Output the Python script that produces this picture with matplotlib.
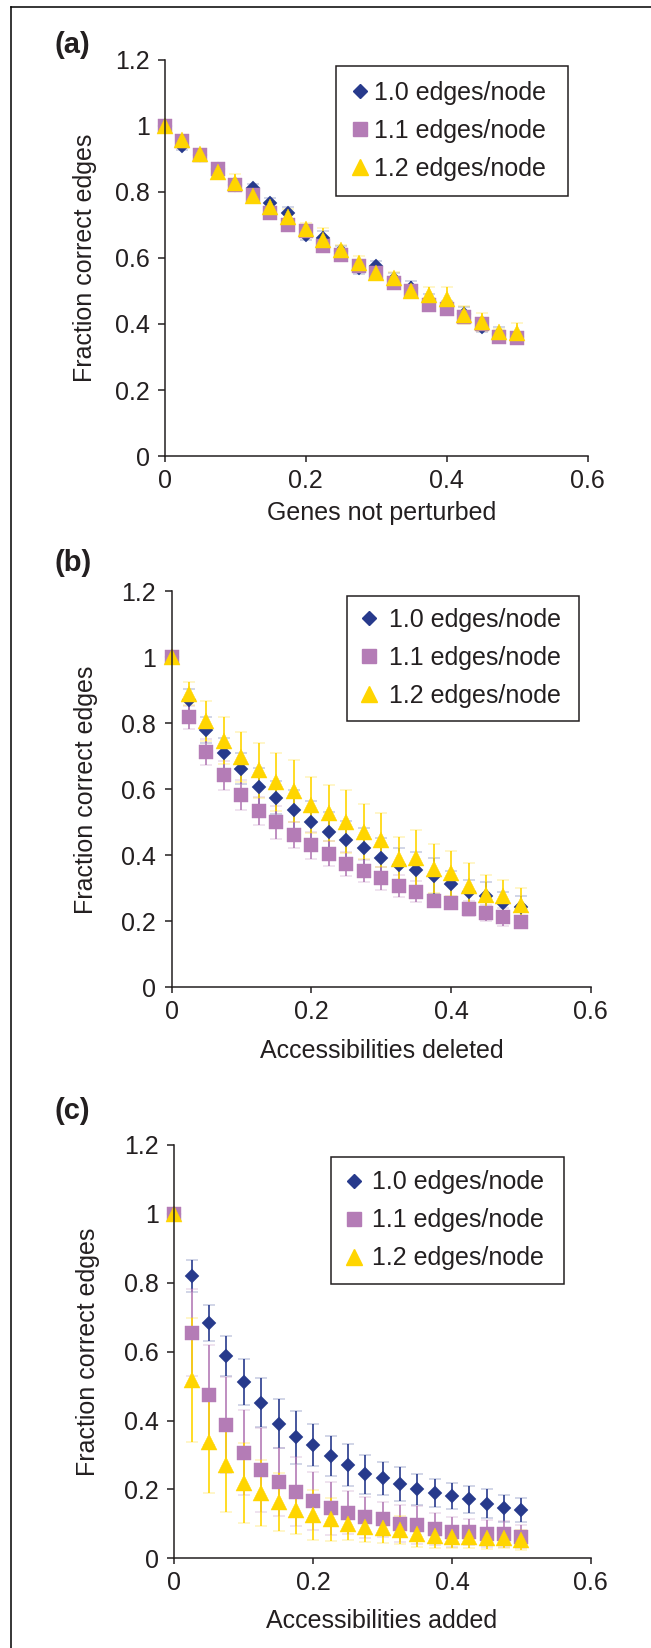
import matplotlib
matplotlib.use("Agg")
import matplotlib.pyplot as plt
from matplotlib.lines import Line2D

plt.rcParams["font.family"] = ["Liberation Sans", "DejaVu Sans"]

W, H = 651, 1648

# fraction of edges removed/added (x), shared by all panels
x = [0.0, 0.025, 0.05, 0.075, 0.1, 0.125, 0.15, 0.175, 0.2, 0.225, 0.25,
     0.275, 0.3, 0.325, 0.35, 0.375, 0.4, 0.425, 0.45, 0.475, 0.5]

labels = ["1.0 edges/node", "1.1 edges/node", "1.2 edges/node"]

# (a) genes not perturbed
a_d = [1.0, 0.94, 0.91, 0.87, 0.82, 0.81, 0.765, 0.735, 0.67, 0.66, 0.62,
       0.57, 0.575, 0.535, 0.51, 0.47, 0.45, 0.43, 0.39, 0.37, 0.36]
a_de = [0, 0.015, 0.015, 0.015, 0.015, 0.015, 0.015, 0.02, 0.015, 0.02, 0.015,
        0.02, 0.015, 0.02, 0.02, 0.02, 0.02, 0.02, 0.015, 0.02, 0.015]
a_s = [1.0, 0.955, 0.91, 0.87, 0.82, 0.79, 0.735, 0.70, 0.68, 0.635, 0.61,
       0.575, 0.555, 0.525, 0.50, 0.457, 0.445, 0.42, 0.40, 0.361, 0.357]
a_se = [0, 0.015, 0.015, 0.015, 0.015, 0.015, 0.015, 0.015, 0.015, 0.015, 0.015,
        0.015, 0.015, 0.015, 0.015, 0.015, 0.015, 0.015, 0.015, 0.015, 0.015]
a_t = [1.0, 0.956, 0.913, 0.86, 0.827, 0.787, 0.755, 0.724, 0.686, 0.654, 0.624,
       0.585, 0.553, 0.538, 0.50, 0.488, 0.474, 0.427, 0.407, 0.375, 0.372]
a_te = [0, 0.01, 0.015, 0.015, 0.026, 0.02, 0.015, 0.025, 0.02, 0.035, 0.015,
        0.02, 0.01, 0.02, 0.01, 0.023, 0.037, 0.027, 0.027, 0.01, 0.03]

# (b) accessibilities deleted
b_d = [1.0, 0.87, 0.78, 0.71, 0.663, 0.607, 0.575, 0.538, 0.502, 0.472, 0.445,
       0.423, 0.392, 0.37, 0.357, 0.338, 0.312, 0.288, 0.278, 0.255, 0.242]
b_de = [0, 0.033, 0.04, 0.047, 0.046, 0.057, 0.05, 0.06, 0.062, 0.06, 0.06,
        0.06, 0.06, 0.053, 0.052, 0.054, 0.04, 0.038, 0.04, 0.034, 0.036]
b_s = [1.0, 0.818, 0.713, 0.642, 0.583, 0.535, 0.5, 0.462, 0.43, 0.405, 0.373,
       0.353, 0.33, 0.307, 0.29, 0.263, 0.255, 0.238, 0.224, 0.212, 0.198]
b_se = [0, 0.035, 0.04, 0.045, 0.045, 0.042, 0.05, 0.04, 0.042, 0.038, 0.036,
        0.034, 0.036, 0.034, 0.032, 0.015, 0.012, 0.023, 0.024, 0.027, 0.012]
b_t = [1.0, 0.89, 0.807, 0.748, 0.698, 0.658, 0.622, 0.595, 0.553, 0.528, 0.502,
       0.472, 0.447, 0.39, 0.392, 0.36, 0.345, 0.308, 0.28, 0.278, 0.25]
b_te = [0, 0.035, 0.06, 0.072, 0.075, 0.084, 0.088, 0.095, 0.085, 0.084, 0.095,
        0.083, 0.081, 0.065, 0.084, 0.075, 0.069, 0.069, 0.06, 0.048, 0.05]

# (c) accessibilities added
c_d = [1.0, 0.819, 0.683, 0.587, 0.512, 0.452, 0.391, 0.351, 0.33, 0.297, 0.27,
       0.244, 0.232, 0.215, 0.2, 0.19, 0.181, 0.171, 0.159, 0.145, 0.14]
c_de = [0, 0.046, 0.051, 0.057, 0.066, 0.07, 0.071, 0.076, 0.061, 0.059, 0.061,
        0.056, 0.048, 0.049, 0.044, 0.04, 0.038, 0.039, 0.041, 0.04, 0.034]
c_s = [1.0, 0.655, 0.473, 0.388, 0.307, 0.256, 0.222, 0.193, 0.167, 0.145, 0.133,
       0.119, 0.113, 0.101, 0.097, 0.085, 0.077, 0.077, 0.072, 0.07, 0.063]
c_se = [0, 0.125, 0.145, 0.139, 0.123, 0.121, 0.098, 0.1, 0.084, 0.077, 0.063,
        0.06, 0.051, 0.054, 0.055, 0.047, 0.043, 0.038, 0.038, 0.038, 0.034]
c_t = [1.0, 0.517, 0.338, 0.27, 0.22, 0.19, 0.164, 0.14, 0.126, 0.113, 0.101,
       0.092, 0.087, 0.082, 0.072, 0.065, 0.061, 0.061, 0.058, 0.058, 0.053]
c_te = [0, 0.18, 0.147, 0.135, 0.116, 0.095, 0.084, 0.07, 0.073, 0.063, 0.048,
        0.045, 0.042, 0.04, 0.038, 0.035, 0.032, 0.03, 0.03, 0.028, 0.028]

NAVY = "#273a8c"
PURPLE = "#b47cb6"
GOLD = "#ffd500"
INK = "#231f20"
FS = 18

styles = [dict(marker="D", ms=7.6, color=NAVY),
          dict(marker="s", ms=9.8, color=PURPLE),
          dict(marker="^", ms=11.5, color=GOLD)]


def fx(px):
    return px / W


def fy(py):
    return 1 - py / H


# panel geometry in pixels: (left, right, y0, y12), legend box, label rows
panels = [
    dict(tag="(a)", tag_y=44.6, box=(164.8, 587.5, 456.1, 59.6),
         series=[(a_d, a_de), (a_s, a_se), (a_t, a_te)],
         xlabel="Genes not perturbed", xlabel_y=513, ylabel_x=85,
         leg=(335.5, 66, 232.5), pad=(0.54, 0.14)),
    dict(tag="(b)", tag_y=563, box=(171.5, 590.8, 987.3, 591.4),
         series=[(b_d, b_de), (b_s, b_se), (b_t, b_te)],
         xlabel="Accessibilities deleted", xlabel_y=1051, ylabel_x=86,
         leg=(346.7, 595.7, 232.5), pad=(0.45, 0.40)),
    dict(tag="(c)", tag_y=1111, box=(174.4, 590.8, 1558.4, 1144.7),
         series=[(c_d, c_de), (c_s, c_se), (c_t, c_te)],
         xlabel="Accessibilities added", xlabel_y=1621, ylabel_x=88,
         leg=(331, 1157, 233), pad=(0.49, 0.29)),
]

fig = plt.figure(figsize=(W / 100, H / 100), dpi=100)

for p in panels:
    l, r, y0, y1 = p["box"]
    ax = fig.add_axes([fx(l), fy(y0), (r - l) / W, (y0 - y1) / H])
    for (vals, err), st in zip(p["series"], styles):
        ax.errorbar(x, vals, yerr=err, fmt=st["marker"], ms=st["ms"],
                    color=st["color"], mec=st["color"], mew=0.3,
                    ecolor=st["color"], elinewidth=1.2, capsize=4.6,
                    capthick=1.2, clip_on=False, zorder=2)
    ax.set_xlim(0, 0.6)
    ax.set_ylim(0, 1.2)
    ax.set_xticks([0, 0.2, 0.4, 0.6])
    ax.set_xticklabels(["0", "0.2", "0.4", "0.6"])
    ax.set_yticks([0, 0.2, 0.4, 0.6, 0.8, 1.0, 1.2])
    ax.set_yticklabels(["0", "0.2", "0.4", "0.6", "0.8", "1", "1.2"])
    for side in ("top", "right"):
        ax.spines[side].set_visible(False)
    for side in ("left", "bottom"):
        ax.spines[side].set_linewidth(1.1)
        ax.spines[side].set_color(INK)
        ax.spines[side].set_zorder(3)
    ax.tick_params(axis="y", direction="out", length=5, width=1.1,
                   colors=INK, labelsize=FS, pad=6)
    ax.tick_params(axis="x", direction="out", length=4, width=1.1,
                   colors=INK, labelsize=FS, pad=5)

    fig.text(fx(p["ylabel_x"]), fy((y0 + y1) / 2), "Fraction correct edges",
             rotation=90, ha="center", va="center", fontsize=FS, color=INK)
    fig.text(fx(382), fy(p["xlabel_y"]), p["xlabel"], ha="center",
             va="center", fontsize=FS, color=INK)
    fig.text(fx(54), fy(p["tag_y"]), p["tag"], ha="left", va="center",
             fontsize=21, fontweight="bold", color=INK)

    handles = [Line2D([], [], linestyle="none", marker=st["marker"],
                      ms=st["ms"], color=st["color"], mec=st["color"])
               for st in styles]
    lx, ly, lw = p["leg"]
    bpad, tpad = p["pad"]
    leg = ax.legend(handles, labels, loc="upper left",
                    bbox_to_anchor=(fx(lx), fy(ly), lw / W, 0),
                    bbox_transform=fig.transFigure, mode="expand",
                    borderaxespad=0, borderpad=bpad + 0.05, handlelength=0.8,
                    handletextpad=tpad, labelspacing=0.56, fontsize=FS,
                    fancybox=False, shadow=False, framealpha=1)
    leg.get_frame().set_edgecolor(INK)
    leg.get_frame().set_linewidth(1.1)
    for t in leg.get_texts():
        t.set_color(INK)

# outer frame (cropped at right and bottom in the source)
fig.add_artist(Line2D([fx(11), 1.0], [fy(7), fy(7)], color="black", lw=1.1))
fig.add_artist(Line2D([fx(11), fx(11)], [fy(7), 0.0], color="black", lw=1.1))

fig.savefig("out.png", dpi=100)
